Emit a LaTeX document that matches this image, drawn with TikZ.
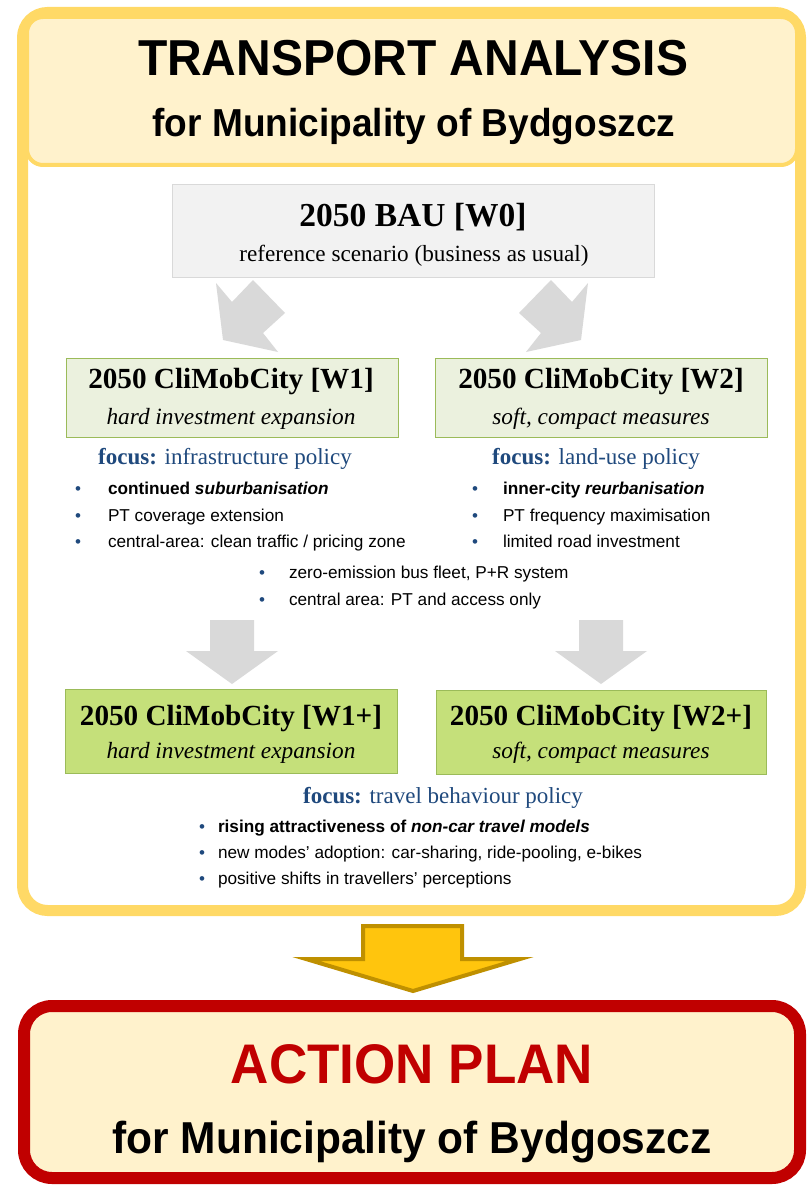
\documentclass[tikz,border=0pt]{standalone}
\usepackage{fontspec}
\setmainfont{Liberation Serif}
\setsansfont{Liberation Sans}
\newfontfamily\headfont{Liberation Sans}[FakeStretch=0.95]
\definecolor{ygold}{HTML}{FFD966}
\definecolor{ycream}{HTML}{FFF2CC}
\definecolor{redd}{HTML}{C00000}
\definecolor{gfill}{HTML}{F2F2F2}
\definecolor{gline}{HTML}{D9D9D9}
\definecolor{garrow}{HTML}{D9D9D9}
\definecolor{lgreen}{HTML}{EBF1DE}
\definecolor{sgreen}{HTML}{C5E07A}
\definecolor{greenline}{HTML}{9BBB59}
\definecolor{bluet}{HTML}{1F497D}
\definecolor{yarrow}{HTML}{FFC50D}
\definecolor{yarrowline}{HTML}{BF9000}
\tikzset{
  boxbase/.style={rectangle, inner sep=0pt, outer sep=0pt},
  lgbox/.style={boxbase, fill=lgreen, draw=greenline, line width=1pt, minimum width=332pt, minimum height=79pt},
  sgbox/.style={boxbase, fill=sgreen, draw=greenline, line width=1pt, minimum width=332pt, minimum height=84pt},
  txt/.style={inner sep=0pt, outer sep=0pt, anchor=base},
  titlefont/.style={txt, font=\headfont\bfseries\fontsize{50.5}{50}\selectfont},
  subfont/.style={txt, font=\headfont\bfseries\fontsize{39}{39}\selectfont},
  scentitle/.style={txt, font=\bfseries\fontsize{29.2}{29}\selectfont},
  scensub/.style={txt, font=\itshape\fontsize{23.3}{23}\selectfont},
  focusfont/.style={txt, text=bluet, font=\fontsize{23}{23}\selectfont},
  itemfont/.style={inner sep=0pt, outer sep=0pt, anchor=base west, font=\sffamily\fontsize{17.2}{17}\selectfont},
  bulletfont/.style={inner sep=0pt, outer sep=0pt, anchor=base west, text=bluet, font=\sffamily\fontsize{17}{17}\selectfont},
}
\begin{document}
\begin{tikzpicture}[x=1pt,y=-1pt]
\useasboundingbox (0,0) rectangle (809,1185);
% outer frame of the transport analysis
\node[boxbase, draw=ygold, fill=white, line width=11pt, rounded corners=25pt,
      minimum width=778pt, minimum height=898pt] (frame) at (411.5,461.5) {};
\node[boxbase, draw=ygold, fill=ycream, line width=4pt, rounded corners=16pt,
      minimum width=770pt, minimum height=148pt] (header) at (412,91) {};
\node[titlefont] (t1) at (413,76) {TRANSPORT ANALYSIS};
\node[subfont] (t2) at (414,137) {for Municipality of Bydgoszcz};

% BAU box
\node[boxbase, fill=gfill, draw=gline, line width=1pt, minimum width=482pt, minimum height=92pt] (bau) at (413,231) {};
\node[txt, font=\bfseries\fontsize{33.5}{33}\selectfont] (baut) at (413,226) {2050 BAU [W0]};
\node[txt, font=\fontsize{23.2}{23}\selectfont] (baus) at (414,261) {reference scenario (business as usual)};

% diagonal arrows
\fill[garrow] (216,283) -- (232,302) -- (253,280) -- (285,313) -- (263,333) -- (278,352) -- (223,340) -- cycle;
\fill[garrow] (588,283) -- (572,302) -- (551,280) -- (519,313) -- (541,333) -- (526,352) -- (581,340) -- cycle;

% W1 / W2
\node[lgbox] (w1) at (232,397.5) {};
\node[lgbox] (w2) at (601,397.5) {};
\node[scentitle] (w1t) at (231,388) {2050 CliMobCity [W1]};
\node[scensub] (w1s) at (231,424) {hard investment expansion};
\node[scentitle] (w2t) at (601,388) {2050 CliMobCity [W2]};
\node[scensub] (w2s) at (601,424) {soft, compact measures};

\node[focusfont] (f1) at (225,464) {\textbf{focus:} infrastructure policy};
\node[focusfont] (f2) at (596,464) {\textbf{focus:} land-use policy};

% left list
\node[bulletfont] (b11) at (75,494) {•};
\node[bulletfont] (b12) at (75,521) {•};
\node[bulletfont] (b13) at (75,547) {•};
\node[itemfont] (i11) at (108,494) {\textbf{continued \textit{suburbanisation}}};
\node[itemfont] (i12) at (108,521) {PT coverage extension};
\node[itemfont] (i13) at (108,547) {central-area: clean traffic / pricing zone};
% right list
\node[bulletfont] (b21) at (472,494) {•};
\node[bulletfont] (b22) at (472,521) {•};
\node[bulletfont] (b23) at (472,547) {•};
\node[itemfont] (i21) at (503,494) {\textbf{inner-city \textit{reurbanisation}}};
\node[itemfont] (i22) at (503,521) {PT frequency maximisation};
\node[itemfont] (i23) at (503,547) {limited road investment};
% middle list
\node[bulletfont] (b31) at (259,578) {•};
\node[bulletfont] (b32) at (259,605) {•};
\node[itemfont] (i31) at (289,578) {zero-emission bus fleet, P+R system};
\node[itemfont] (i32) at (289,605) {central area: PT and access only};

% vertical arrows
\fill[garrow] (210,620) -- (254,620) -- (254,651) -- (278,651) -- (232,684) -- (186,651) -- (210,651) -- cycle;
\fill[garrow] (579,620) -- (623,620) -- (623,651) -- (647,651) -- (601,684) -- (555,651) -- (579,651) -- cycle;

% W1+ / W2+
\node[sgbox] (w3) at (231,731) {};
\node[sgbox, minimum width=330pt] (w4) at (601,732) {};
\node[scentitle] (w3t) at (231,725) {2050 CliMobCity [W1+]};
\node[scensub] (w3s) at (231,758) {hard investment expansion};
\node[scentitle] (w4t) at (601,725) {2050 CliMobCity [W2+]};
\node[scensub] (w4s) at (601,758) {soft, compact measures};

\node[focusfont] (f3) at (443,803) {\textbf{focus:} travel behaviour policy};
\node[bulletfont] (b41) at (199,832) {•};
\node[bulletfont] (b42) at (199,858) {•};
\node[bulletfont] (b43) at (199,884) {•};
\node[itemfont] (i41) at (218,832) {\textbf{rising attractiveness of \textit{non-car travel models}}};
\node[itemfont] (i42) at (218,858) {new modes’ adoption: car-sharing, ride-pooling, e-bikes};
\node[itemfont] (i43) at (218,884) {positive shifts in travellers’ perceptions};

% yellow arrow
\filldraw[fill=yarrow, draw=yarrowline, line width=4pt, line join=miter]
  (363,926) -- (462,926) -- (462,959) -- (520,959) -- (413,991) -- (306,959) -- (363,959) -- cycle;

% action plan box
\node[boxbase, draw=redd, fill=ycream, line width=12pt, rounded corners=28pt,
      minimum width=776pt, minimum height=172pt] (action) at (412,1092) {};
\node[txt, text=redd, font=\headfont\bfseries\fontsize{55.8}{55}\selectfont] (a1) at (412,1083) {ACTION PLAN};
\node[txt, font=\headfont\bfseries\fontsize{44.7}{44}\selectfont] (a2) at (412,1153) {for Municipality of Bydgoszcz};
\end{tikzpicture}
\end{document}
